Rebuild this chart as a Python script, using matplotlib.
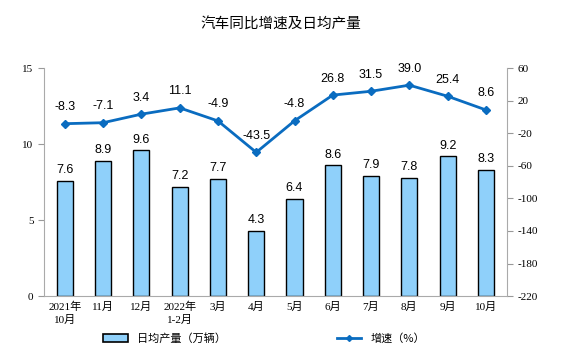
import numpy as np
import matplotlib
matplotlib.use('Agg')
import matplotlib.pyplot as plt
from matplotlib.lines import Line2D
from matplotlib.patches import Patch

plt.rcParams['font.family'] = ['Liberation Sans', 'Noto Sans CJK SC']
plt.rcParams['axes.unicode_minus'] = False

months = ['2021年\n10月', '11月', '12月', '2022年\n1-2月', '3月', '4月',
          '5月', '6月', '7月', '8月', '9月', '10月']
daily_output = [7.6, 8.9, 9.6, 7.2, 7.7, 4.3, 6.4, 8.6, 7.9, 7.8, 9.2, 8.3]
growth = [-8.3, -7.1, 3.4, 11.1, -4.9, -43.5, -4.8, 26.8, 31.5, 39.0, 25.4, 8.6]

tick_font = ['Liberation Serif', 'Noto Sans CJK SC']
bar_color = '#8fd0fa'
line_color = '#0a6cc0'

fig = plt.figure(figsize=(5.62, 3.62), dpi=100)
ax = fig.add_axes([0.078, 0.182, 0.824, 0.63])
x = np.arange(len(months))

ax.bar(x, daily_output, width=0.42, color=bar_color, edgecolor='black', linewidth=1.0)
for xi, v in zip(x, daily_output):
    ax.text(xi, v + 0.3, f'{v:.1f}', ha='center', va='bottom', fontsize=9)
ax.set_ylim(0, 15)
ax.set_xlim(-0.55, len(months) - 0.45)
ax.set_yticks([0, 5, 10, 15])
ax.set_xticks(x)
ax.set_xticklabels(months, fontsize=8, family=tick_font, linespacing=1.3)
for lbl in ax.get_yticklabels():
    lbl.set_family(tick_font)
    lbl.set_fontsize(8)
ax.tick_params(axis='x', length=0, pad=4)
ax.tick_params(axis='y', length=4, color='#999999', direction='out')
for s in ['top', 'right']:
    ax.spines[s].set_visible(False)
ax.spines['left'].set_color('#aaaaaa')
ax.spines['bottom'].set_color('#aaaaaa')

ax2 = ax.twinx()
ax2.plot(x, growth, color=line_color, linewidth=2, marker='D', markersize=4)
for xi, v in zip(x, growth):
    ax2.text(xi, v + 13, f'{v:.1f}', ha='center', va='bottom', fontsize=9)
ax2.set_ylim(-220, 60)
ax2.set_yticks(np.arange(-220, 61, 40))
for lbl in ax2.get_yticklabels():
    lbl.set_family(tick_font)
    lbl.set_fontsize(8)
ax2.tick_params(axis='y', length=4, color='#999999')
for s in ['top', 'left', 'bottom']:
    ax2.spines[s].set_visible(False)
ax2.spines['right'].set_color('#aaaaaa')

fig.text(0.5, 0.935, '汽车同比增速及日均产量', ha='center', va='center', fontsize=10.5,
         family=['Noto Sans CJK SC'])

handles = [Patch(facecolor=bar_color, edgecolor='black', linewidth=1.2),
           Line2D([0], [0], color=line_color, linewidth=2, marker='D', markersize=3)]
fig.legend(handles, ['日均产量（万辆）', '增速（%）'], loc='center', bbox_to_anchor=(0.47, 0.065),
           ncol=2, frameon=False, columnspacing=10, handlelength=2.2,
           handleheight=0.8, prop={'family': ['Noto Sans CJK SC'], 'size': 8})

fig.savefig('out.png', dpi=100)
